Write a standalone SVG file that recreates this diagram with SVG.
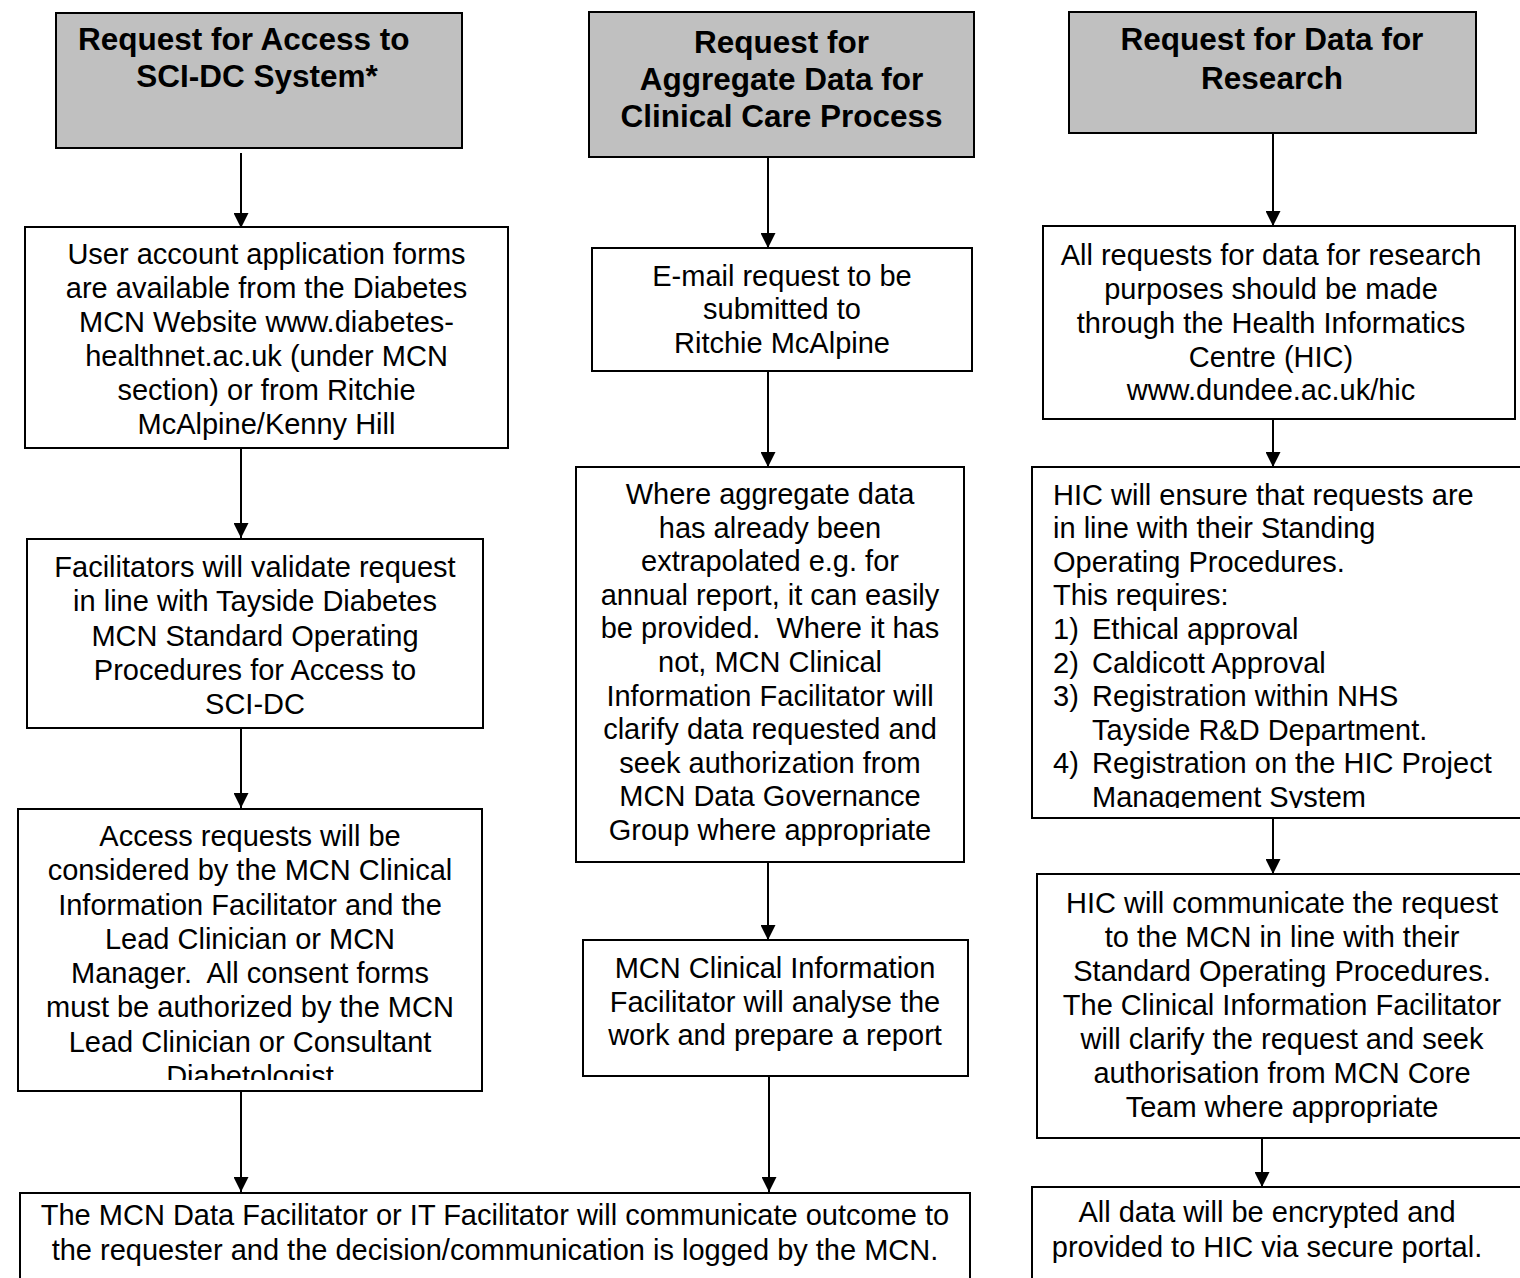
<svg xmlns="http://www.w3.org/2000/svg" width="1520" height="1278" viewBox="0 0 1520 1278">
<style>
.box{fill:#fff;stroke:#000;stroke-width:2}
.hdr{fill:#c0c0c0;stroke:#000;stroke-width:2}
.t{font-family:"Liberation Sans",Arial,sans-serif;font-size:29px;fill:#000;text-anchor:middle}
.h{font-family:"Liberation Sans",Arial,sans-serif;font-size:31.5px;font-weight:bold;fill:#000;text-anchor:middle}
.l{text-anchor:start}
.c{stroke:#000;stroke-width:2;fill:none;marker-end:url(#ah)}
</style>
<defs>
<marker id="ah" viewBox="0 0 15 15" refX="15" refY="7.5" markerWidth="15" markerHeight="15" markerUnits="userSpaceOnUse" orient="auto">
<path d="M0,0 L15,7.5 L0,15 z" fill="#000"/>
</marker>
<clipPath id="clipAccess"><rect x="18" y="809" width="464" height="271"/></clipPath>
<clipPath id="clipHic"><rect x="1032" y="467" width="493" height="341"/></clipPath>
</defs>
<rect width="1520" height="1278" fill="#fff"/>

<g id="connectors">
<path class="c" d="M241,153 V228"/>
<path class="c" d="M241,448 V538"/>
<path class="c" d="M241,728 V808"/>
<path class="c" d="M241,1091 V1192"/>
<path class="c" d="M768,157 V248"/>
<path class="c" d="M768,371 V467"/>
<path class="c" d="M768,862 V940"/>
<path class="c" d="M769,1076 V1192"/>
<path class="c" d="M1273,133 V226"/>
<path class="c" d="M1273,419 V467"/>
<path class="c" d="M1273,818 V874"/>
<path class="c" d="M1262,1138 V1187"/>
</g>

<g id="h1">
<rect class="hdr" x="56" y="13" width="406" height="135"/>
<text class="h l" x="78" y="50">Request for Access to</text>
<text class="h" x="257" y="87">SCI-DC System*</text>
</g>
<g id="h2">
<rect class="hdr" x="589" y="12" width="385" height="145"/>
<text class="h" x="781.5" y="53">Request for</text>
<text class="h" x="781.5" y="90">Aggregate Data for</text>
<text class="h" x="781.5" y="127">Clinical Care Process</text>
</g>
<g id="h3">
<rect class="hdr" x="1069" y="12" width="407" height="121"/>
<text class="h" x="1272" y="50">Request for Data for</text>
<text class="h" x="1272" y="89">Research</text>
</g>

<g id="n1">
<rect class="box" x="25" y="227" width="483" height="221"/>
<text class="t" x="266.5" y="264">User account application forms</text>
<text class="t" x="266.5" y="298">are available from the Diabetes</text>
<text class="t" x="266.5" y="332">MCN Website www.diabetes-</text>
<text class="t" x="266.5" y="366">healthnet.ac.uk (under MCN</text>
<text class="t" x="266.5" y="400">section) or from Ritchie</text>
<text class="t" x="266.5" y="434">McAlpine/Kenny Hill</text>
</g>
<g id="n2">
<rect class="box" x="27" y="539" width="456" height="189"/>
<text class="t" x="255" y="577">Facilitators will validate request</text>
<text class="t" x="255" y="611">in line with Tayside Diabetes</text>
<text class="t" x="255" y="646">MCN Standard Operating</text>
<text class="t" x="255" y="680">Procedures for Access to</text>
<text class="t" x="255" y="714">SCI-DC</text>
</g>
<g id="n3">
<rect class="box" x="18" y="809" width="464" height="282"/>
<g clip-path="url(#clipAccess)">
<text class="t" x="250" y="846">Access requests will be</text>
<text class="t" x="250" y="880">considered by the MCN Clinical</text>
<text class="t" x="250" y="915">Information Facilitator and the</text>
<text class="t" x="250" y="949">Lead Clinician or MCN</text>
<text class="t" x="250" y="983" xml:space="preserve">Manager.  All consent forms</text>
<text class="t" x="250" y="1017">must be authorized by the MCN</text>
<text class="t" x="250" y="1052">Lead Clinician or Consultant</text>
<text class="t" x="250" y="1086">Diabetologist</text>
</g>
</g>

<g id="m1">
<rect class="box" x="592" y="248" width="380" height="123"/>
<text class="t" x="782" y="286">E-mail request to be</text>
<text class="t" x="782" y="319">submitted to</text>
<text class="t" x="782" y="353">Ritchie McAlpine</text>
</g>
<g id="m2">
<rect class="box" x="576" y="467" width="388" height="395"/>
<text class="t" x="770" y="504">Where aggregate data</text>
<text class="t" x="770" y="538">has already been</text>
<text class="t" x="770" y="571">extrapolated e.g. for</text>
<text class="t" x="770" y="605">annual report, it can easily</text>
<text class="t" x="770" y="638" xml:space="preserve">be provided.  Where it has</text>
<text class="t" x="770" y="672">not, MCN Clinical</text>
<text class="t" x="770" y="706">Information Facilitator will</text>
<text class="t" x="770" y="739">clarify data requested and</text>
<text class="t" x="770" y="773">seek authorization from</text>
<text class="t" x="770" y="806">MCN Data Governance</text>
<text class="t" x="770" y="840">Group where appropriate</text>
</g>
<g id="m3">
<rect class="box" x="583" y="940" width="385" height="136"/>
<text class="t" x="775" y="978">MCN Clinical Information</text>
<text class="t" x="775" y="1012">Facilitator will analyse the</text>
<text class="t" x="775" y="1045">work and prepare a report</text>
</g>

<g id="r1">
<rect class="box" x="1043" y="226" width="472" height="193"/>
<text class="t" x="1271" y="265">All requests for data for research</text>
<text class="t" x="1271" y="299">purposes should be made</text>
<text class="t" x="1271" y="333">through the Health Informatics</text>
<text class="t" x="1271" y="367">Centre (HIC)</text>
<text class="t" x="1271" y="400">www.dundee.ac.uk/hic</text>
</g>
<g id="r2">
<rect class="box" x="1032" y="467" width="493" height="351"/>
<g clip-path="url(#clipHic)">
<text class="t l" x="1053" y="505">HIC will ensure that requests are</text>
<text class="t l" x="1053" y="538">in line with their Standing</text>
<text class="t l" x="1053" y="572">Operating Procedures.</text>
<text class="t l" x="1053" y="605">This requires:</text>
<text class="t l" x="1053" y="639">1)</text><text class="t l" x="1092" y="639">Ethical approval</text>
<text class="t l" x="1053" y="673">2)</text><text class="t l" x="1092" y="673">Caldicott Approval</text>
<text class="t l" x="1053" y="706">3)</text><text class="t l" x="1092" y="706">Registration within NHS</text>
<text class="t l" x="1092" y="740">Tayside R&amp;D Department.</text>
<text class="t l" x="1053" y="773">4)</text><text class="t l" x="1092" y="773">Registration on the HIC Project</text>
<text class="t l" x="1092" y="807">Management System</text>
</g>
</g>
<g id="r3">
<rect class="box" x="1037" y="874" width="491" height="264"/>
<text class="t" x="1282" y="913">HIC will communicate the request</text>
<text class="t" x="1282" y="947">to the MCN in line with their</text>
<text class="t" x="1282" y="981">Standard Operating Procedures.</text>
<text class="t" x="1282" y="1015">The Clinical Information Facilitator</text>
<text class="t" x="1282" y="1049">will clarify the request and seek</text>
<text class="t" x="1282" y="1083">authorisation from MCN Core</text>
<text class="t" x="1282" y="1117">Team where appropriate</text>
</g>
<g id="r4">
<rect class="box" x="1032" y="1187" width="493" height="110"/>
<text class="t" x="1267" y="1222">All data will be encrypted and</text>
<text class="t" x="1267" y="1257">provided to HIC via secure portal.</text>
</g>

<g id="bottom">
<rect class="box" x="20" y="1193" width="950" height="110"/>
<text class="t" x="495" y="1225">The MCN Data Facilitator or IT Facilitator will communicate outcome to</text>
<text class="t" x="495" y="1260">the requester and the decision/communication is logged by the MCN.</text>
</g>
</svg>
